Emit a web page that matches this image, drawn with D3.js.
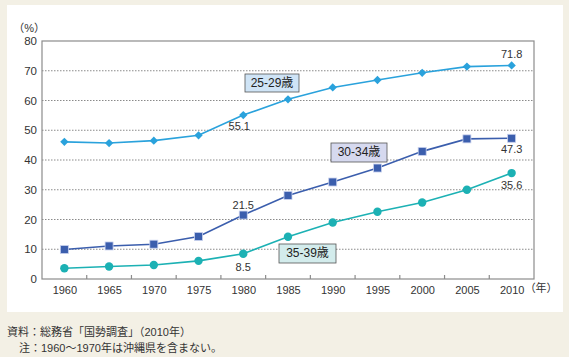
<!DOCTYPE html>
<html><head><meta charset="utf-8">
<script src="https://cdn.jsdelivr.net/npm/d3@7"></script>
<style>
html,body{margin:0;padding:0;background:#f3f0e5;}
svg{display:block;font-family:"Liberation Sans","Noto Sans CJK JP",sans-serif;}
</style></head><body>
<svg id="c" width="569" height="357"></svg>
<script>
const years = ["1960","1965","1970","1975","1980","1985","1990","1995","2000","2005","2010"];
const s2529 = [46.1,45.7,46.5,48.3,55.1,60.4,64.4,66.9,69.3,71.4,71.8];
const s3034 = [9.9,11.1,11.7,14.3,21.5,28.1,32.6,37.3,42.9,47.1,47.3];
const s3539 = [3.6,4.2,4.7,6.1,8.5,14.2,19.0,22.6,25.7,30.0,35.6];
const yTicks = [0,10,20,30,40,50,60,70,80];
const seriesNames = ["25-29歳","30-34歳","35-39歳"];

const svg = d3.select("#c");
svg.append("rect").attr("x",7).attr("y",5).attr("width",556).attr("height",307).attr("fill","#fff");

const L=42,R=534,T=41,B=279;
const x = d3.scalePoint().domain(years).range([L,R]).padding(0.5);
const y = d3.scaleLinear().domain([0,80]).range([B,T]);
const step = x.step();

// grid
svg.append("g").selectAll("line").data(yTicks.filter(d=>d>0&&d<80)).join("line")
 .attr("x1",L).attr("x2",R).attr("y1",d=>y(d)).attr("y2",d=>y(d))
 .attr("stroke","#8a8a8a").attr("stroke-width",1).attr("stroke-dasharray","1.5,1.5");
// frame
svg.append("rect").attr("x",L).attr("y",T).attr("width",R-L).attr("height",B-T)
 .attr("fill","none").attr("stroke","#8c8c8c").attr("stroke-width",1.2);

// y axis
const ya = d3.axisLeft(y).tickValues(yTicks).tickSize(0).tickPadding(5);
const gy = svg.append("g").attr("transform",`translate(${L},0)`).call(ya);
gy.select(".domain").remove();
gy.selectAll("text").attr("font-size",11.5).attr("fill","#333");

// x axis
const xa = d3.axisBottom(x).tickSize(0).tickPadding(7);
const gx = svg.append("g").attr("transform",`translate(0,${B})`).call(xa);
gx.select(".domain").remove();
gx.selectAll("text").attr("font-size",11).attr("fill","#333");
// tick marks between categories
svg.append("g").selectAll("line").data(years.slice(1)).join("line")
 .attr("x1",d=>x(d)-step/2).attr("x2",d=>x(d)-step/2).attr("y1",B).attr("y2",B-4)
 .attr("stroke","#8c8c8c").attr("stroke-width",1.2);

svg.append("text").attr("x",L+3).attr("y",T-9).attr("text-anchor","end").attr("font-size",11).attr("fill","#333").text("（%）");
svg.append("text").attr("x",x("2010")+13).attr("y",B+13).attr("font-size",11).attr("fill","#333").text("（年）");

const line = d3.line().x((d,i)=>x(years[i])).y(d=>y(d));
const cols = ["#2aa2dc","#3b5ead","#1cb1b4"];
const data = [s2529,s3034,s3539];
data.forEach((s,k)=>{
  svg.append("path").datum(s).attr("d",line).attr("fill","none").attr("stroke",cols[k]).attr("stroke-width",1.6);
  const g = svg.append("g");
  s.forEach((v,i)=>{
    const cx=x(years[i]), cy=y(v);
    if(k===0){
      g.append("path").attr("d",d3.symbol(d3.symbolDiamond2,44)()).attr("transform",`translate(${cx},${cy})`).attr("fill",cols[k]);
    } else if(k===1){
      g.append("rect").attr("x",cx-4).attr("y",cy-4).attr("width",8).attr("height",8).attr("fill",cols[k]).attr("stroke","#c9d2ee").attr("stroke-width",0.8);
    } else {
      g.append("circle").attr("cx",cx).attr("cy",cy).attr("r",4.2).attr("fill",cols[k]);
    }
  });
});

// value labels
const vl = [
 {s:0,i:4,dx:-4,dy:12},
 {s:0,i:10,dx:0,dy:-10},
 {s:1,i:4,dx:0,dy:-9},
 {s:1,i:10,dx:0,dy:12},
 {s:2,i:4,dx:0,dy:14},
 {s:2,i:10,dx:0,dy:13}
];
vl.forEach(o=>{
  const v=data[o.s][o.i];
  svg.append("text").attr("x",x(years[o.i])+o.dx).attr("y",y(v)+o.dy).attr("text-anchor","middle")
   .attr("font-size",11).attr("fill","#333").attr("dominant-baseline","middle").text(v.toFixed(1));
});

// series label boxes
const boxes = [
 {x:245,y:74,w:54,h:18,fill:"#cfe4f6"},
 {x:331,y:143,w:56,h:19,fill:"#d6d9ef"},
 {x:279,y:244,w:57,h:19,fill:"#d3ecec"}
];
boxes.forEach((b,k)=>{
  svg.append("rect").attr("x",b.x).attr("y",b.y).attr("width",b.w).attr("height",b.h).attr("fill",b.fill)
   .attr("stroke","#555").attr("stroke-width",0.8);
  svg.append("text").attr("x",b.x+b.w/2).attr("y",b.y+b.h/2+0.5).attr("text-anchor","middle").attr("dominant-baseline","middle")
   .attr("font-size",12).attr("fill","#222").text(seriesNames[k]);
});

// footer
svg.append("text").attr("x",7).attr("y",336).attr("font-size",11).attr("fill","#333").text("資料：総務省「国勢調査」（2010年）");
svg.append("text").attr("x",19).attr("y",352).attr("font-size",11).attr("fill","#333").text("注：1960～1970年は沖縄県を含まない。");
</script></body></html>
